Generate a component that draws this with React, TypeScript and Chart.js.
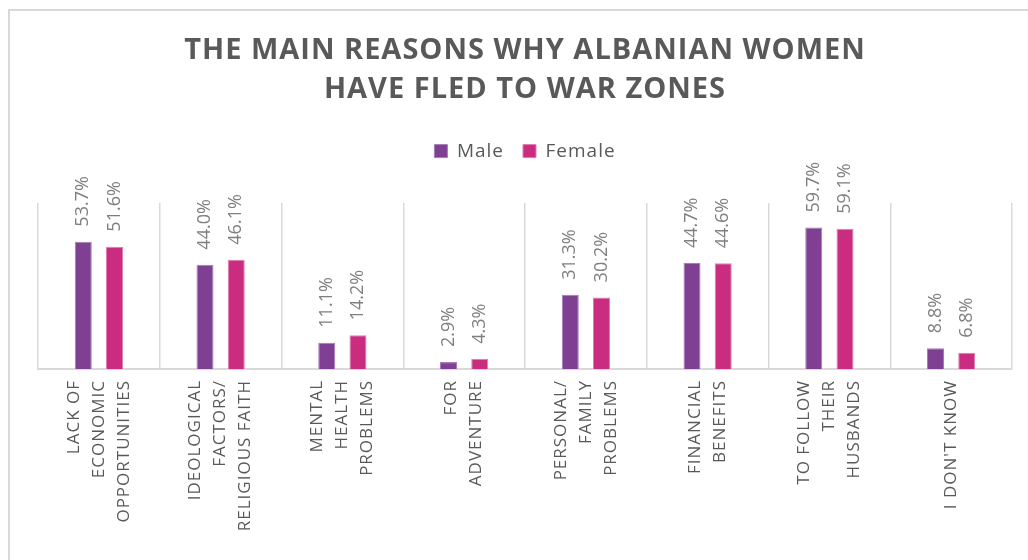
import React, { useEffect, useRef } from "react";
import { Chart, registerables } from "chart.js";

Chart.register(...registerables);

const titleLines = ["THE MAIN REASONS WHY ALBANIAN WOMEN", "HAVE FLED TO WAR ZONES"];
const categories: string[][] = [
  ["LACK OF", "ECONOMIC", "OPPORTUNITIES"],
  ["IDEOLOGICAL", "FACTORS/", "RELIGIOUS FAITH"],
  ["MENTAL", "HEALTH", "PROBLEMS"],
  ["FOR", "ADVENTURE"],
  ["PERSONAL/", "FAMILY", "PROBLEMS"],
  ["FINANCIAL", "BENEFITS"],
  ["TO FOLLOW", "THEIR", "HUSBANDS"],
  ["I DON'T KNOW"],
];
const seriesNames = ["Male", "Female"];
const maleValues = [53.7, 44.0, 11.1, 2.9, 31.3, 44.7, 59.7, 8.8];
const femaleValues = [51.6, 46.1, 14.2, 4.3, 30.2, 44.6, 59.1, 6.8];
const yMax = 70;

const MALE_COLOR = "#7f3f93";
const FEMALE_COLOR = "#ca2c80";
const TEXT_COLOR = "#595959";

const spacingPlugin = {
  id: "letterSpacingPlugin",
  beforeUpdate(chart: any) {
    chart.ctx.letterSpacing = "1px";
  },
  beforeDraw(chart: any) {
    chart.ctx.letterSpacing = "1px";
  },
};

// Rotated, multi-line category labels centred on each tick of the x scale
const categoryLabelPlugin = {
  id: "categoryLabels",
  afterDraw(chart: any) {
    const ctx = chart.ctx;
    const xScale = chart.scales.x;
    const lineH = 25;
    ctx.save();
    ctx.letterSpacing = "1px";
    ctx.font = "17px 'Open Sans'";
    ctx.fillStyle = TEXT_COLOR;
    ctx.textAlign = "right";
    ctx.textBaseline = "middle";
    const y = chart.chartArea.bottom + 11;
    (chart.data.labels as string[][]).forEach((lines, i) => {
      const px = xScale.getPixelForTick(i);
      const n = lines.length;
      lines.forEach((line, j) => {
        ctx.save();
        ctx.translate(px + (j - (n - 1) / 2) * lineH, y);
        ctx.rotate(-Math.PI / 2);
        ctx.fillText(line, 0, 0);
        ctx.restore();
      });
    });
    ctx.restore();
  },
};

const valueLabelPlugin = {
  id: "valueLabels",
  afterDatasetsDraw(chart: any) {
    const ctx = chart.ctx;
    ctx.save();
    ctx.letterSpacing = "0px";
    ctx.font = "18px 'Open Sans'";
    ctx.fillStyle = "#7f7f7f";
    ctx.textAlign = "left";
    ctx.textBaseline = "middle";
    chart.data.datasets.forEach((ds: any, di: number) => {
      const meta = chart.getDatasetMeta(di);
      meta.data.forEach((bar: any, i: number) => {
        const v = ds.data[i] as number;
        ctx.save();
        ctx.translate(bar.x, bar.y - 15);
        ctx.rotate(-Math.PI / 2);
        ctx.fillText(v.toFixed(1) + "%", 0, 0);
        ctx.restore();
      });
    });
    ctx.restore();
  },
};

export default function App() {
  const canvasRef = useRef<HTMLCanvasElement | null>(null);

  useEffect(() => {
    const canvas = canvasRef.current;
    if (!canvas) return;
    const chart = new Chart(canvas, {
      type: "bar",
      data: {
        labels: categories,
        datasets: [
          {
            label: seriesNames[0],
            data: maleValues,
            backgroundColor: MALE_COLOR,
            borderColor: "#a77bbb",
            borderWidth: 1,
            categoryPercentage: 0.513,
            barPercentage: 0.545,
          },
          {
            label: seriesNames[1],
            data: femaleValues,
            backgroundColor: FEMALE_COLOR,
            borderColor: "#e27cb3",
            borderWidth: 1,
            categoryPercentage: 0.513,
            barPercentage: 0.545,
          },
        ],
      },
      options: {
        responsive: false,
        animation: false,
        devicePixelRatio: 1,
        layout: { padding: { left: 38, right: 47, top: 0, bottom: 0 } },
        plugins: {
          title: {
            display: true,
            text: titleLines,
            color: TEXT_COLOR,
            font: { family: "'Open Sans'", size: 29, weight: "bold", lineHeight: 1.35 },
            padding: { top: 31.5, bottom: 12.8 },
          },
          subtitle: {
            display: true,
            text: "",
            weight: 500,
            font: { size: 10, lineHeight: 1 },
            padding: { top: 0, bottom: 22.4 },
          } as any,
          legend: {
            display: true,
            position: "top",
            labels: {
              color: TEXT_COLOR,
              font: { family: "'Open Sans'", size: 19 },
              boxWidth: 13,
              boxHeight: 13,
              padding: 19,
            },
          },
          tooltip: { enabled: false },
        },
        scales: {
          x: {
            grid: {
              display: true,
              color: "#d9d9d9",
              lineWidth: 1.5,
              drawTicks: false,
            },
            border: { display: true, color: "#d9d9d9", width: 2 },
            ticks: {
              display: false,
              autoSkip: false,
            },
            afterFit: (scale: any) => {
              scale.height = 191;
            },
          },
          y: {
            display: false,
            min: 0,
            max: yMax,
          },
        },
      },
      plugins: [spacingPlugin, valueLabelPlugin, categoryLabelPlugin],
    });
    return () => chart.destroy();
  }, []);

  return (
    <div
      style={{
        position: "fixed",
        left: 0,
        top: 0,
        width: 1028,
        height: 560,
        overflow: "hidden",
        background: "#ffffff",
      }}
    >
      <div
        style={{
          position: "absolute",
          left: 8,
          top: 9,
          width: 1100,
          height: 700,
          border: "2px solid #d9d9d9",
        }}
      />
      <canvas
        ref={canvasRef}
        width={1059}
        height={560}
        style={{ position: "absolute", left: 0, top: 0, width: 1059, height: 560 }}
      />
    </div>
  );
}
